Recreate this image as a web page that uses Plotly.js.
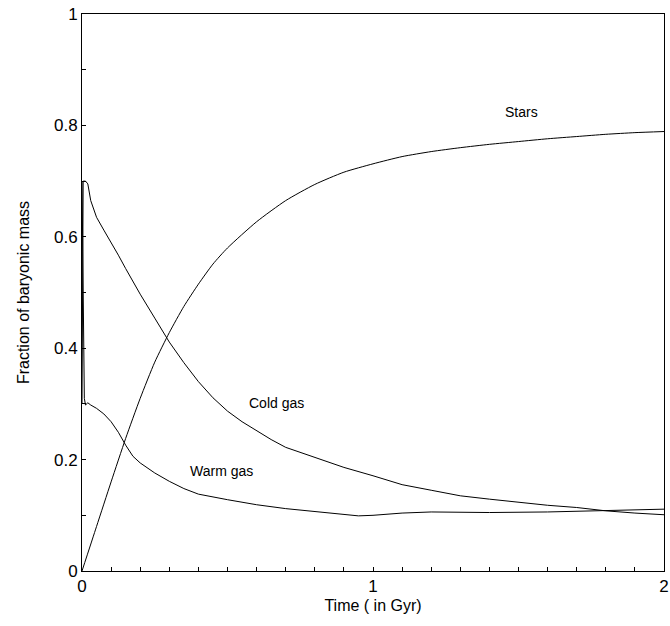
<!DOCTYPE html>
<html>
<head>
<meta charset="utf-8">
<script src="https://cdn.plot.ly/plotly-3.0.1.min.js"></script>
<style>html,body{margin:0;padding:0;background:#fff;}#chart{width:670px;height:626px;}</style>
</head>
<body>
<div id="chart"></div>
<script>
// Time in Gyr and fraction of baryonic mass
const starsX = [0, 0.05, 0.1, 0.15, 0.2, 0.25, 0.3, 0.35, 0.4, 0.45, 0.5, 0.6, 0.7, 0.8, 0.9, 1.0, 1.1, 1.2, 1.3, 1.4, 1.5, 1.6, 1.7, 1.8, 1.9, 2.0];
const starsY = [0, 0.08, 0.16, 0.238, 0.31, 0.375, 0.428, 0.475, 0.515, 0.551, 0.58, 0.627, 0.665, 0.694, 0.716, 0.731, 0.744, 0.753, 0.760, 0.766, 0.771, 0.776, 0.780, 0.784, 0.787, 0.789];

const coldX = [0, 0.004, 0.012, 0.02, 0.03, 0.05, 0.075, 0.1, 0.125, 0.15, 0.175, 0.2, 0.25, 0.3, 0.35, 0.4, 0.45, 0.5, 0.55, 0.6, 0.65, 0.7, 0.8, 0.9, 1.0, 1.1, 1.2, 1.3, 1.4, 1.5, 1.6, 1.7, 1.8, 1.9, 2.0];
const coldY = [0.30, 0.70, 0.70, 0.695, 0.665, 0.635, 0.612, 0.59, 0.567, 0.543, 0.52, 0.497, 0.454, 0.411, 0.374, 0.340, 0.311, 0.287, 0.268, 0.252, 0.236, 0.222, 0.204, 0.186, 0.171, 0.155, 0.145, 0.135, 0.129, 0.123, 0.118, 0.114, 0.108, 0.104, 0.101];

const warmX = [0, 0.003, 0.008, 0.012, 0.02, 0.03, 0.05, 0.075, 0.1, 0.125, 0.15, 0.175, 0.2, 0.25, 0.3, 0.35, 0.4, 0.5, 0.6, 0.7, 0.8, 0.9, 0.95, 1.0, 1.1, 1.2, 1.4, 1.6, 1.8, 2.0];
const warmY = [0.70, 0.50, 0.31, 0.298, 0.302, 0.298, 0.292, 0.282, 0.268, 0.249, 0.226, 0.206, 0.194, 0.176, 0.161, 0.148, 0.138, 0.128, 0.119, 0.112, 0.107, 0.101, 0.099, 0.100, 0.104, 0.106, 0.105, 0.106, 0.108, 0.111];

const labels = ["Stars", "Cold gas", "Warm gas"];
const labelX = [1.512, 0.667, 0.481];
const labelY = [0.824, 0.302, 0.180];

const line = {color: '#000', width: 1};
const traces = [
  {x: starsX, y: starsY, mode: 'lines', line: {color: '#000', width: 1, shape: 'spline', smoothing: 0.6}, name: labels[0]},
  {x: coldX, y: coldY, mode: 'lines', line: line, name: labels[1]},
  {x: warmX, y: warmY, mode: 'lines', line: line, name: labels[2]}
];

const font = {family: 'Liberation Sans, Arial, sans-serif', color: '#000'};
const layout = {
  width: 670, height: 626,
  margin: {l: 82, r: 6, t: 14, b: 55},
  paper_bgcolor: '#fff', plot_bgcolor: '#fff',
  showlegend: false,
  font: font,
  xaxis: {
    range: [0, 2], showgrid: false, zeroline: false,
    showline: true, linecolor: '#000', linewidth: 1, mirror: true,
    ticks: 'inside', ticklen: 4, tickcolor: '#000',
    tickvals: [0,0.1,0.2,0.3,0.4,0.5,0.6,0.7,0.8,0.9,1,1.1,1.2,1.3,1.4,1.5,1.6,1.7,1.8,1.9,2],
    ticktext: ['0','','','','','','','','','','1','','','','','','','','','','2'],
    tickfont: {family: font.family, size: 17, color: '#000'},
    title: {text: 'Time ( in Gyr)', font: {family: font.family, size: 16, color: '#000'}, standoff: 4}
  },
  yaxis: {
    range: [0, 1], showgrid: false, zeroline: false,
    showline: true, linecolor: '#000', linewidth: 1, mirror: true,
    ticks: 'inside', ticklen: 4, tickcolor: '#000',
    tickvals: [0,0.1,0.2,0.3,0.4,0.5,0.6,0.7,0.8,0.9,1],
    ticktext: ['0','','0.2','','0.4','','0.6','','0.8','','1'],
    tickfont: {family: font.family, size: 17, color: '#000'},
    title: {text: 'Fraction of baryonic mass', font: {family: font.family, size: 16, color: '#000'}, standoff: 20}
  },
  annotations: labels.map((t, i) => ({
    x: labelX[i], y: labelY[i], xref: 'x', yref: 'y', text: t,
    showarrow: false, font: {family: font.family, size: 14, color: '#000'}
  }))
};

Plotly.newPlot('chart', traces, layout, {displayModeBar: false, staticPlot: true});
</script>
</body>
</html>
